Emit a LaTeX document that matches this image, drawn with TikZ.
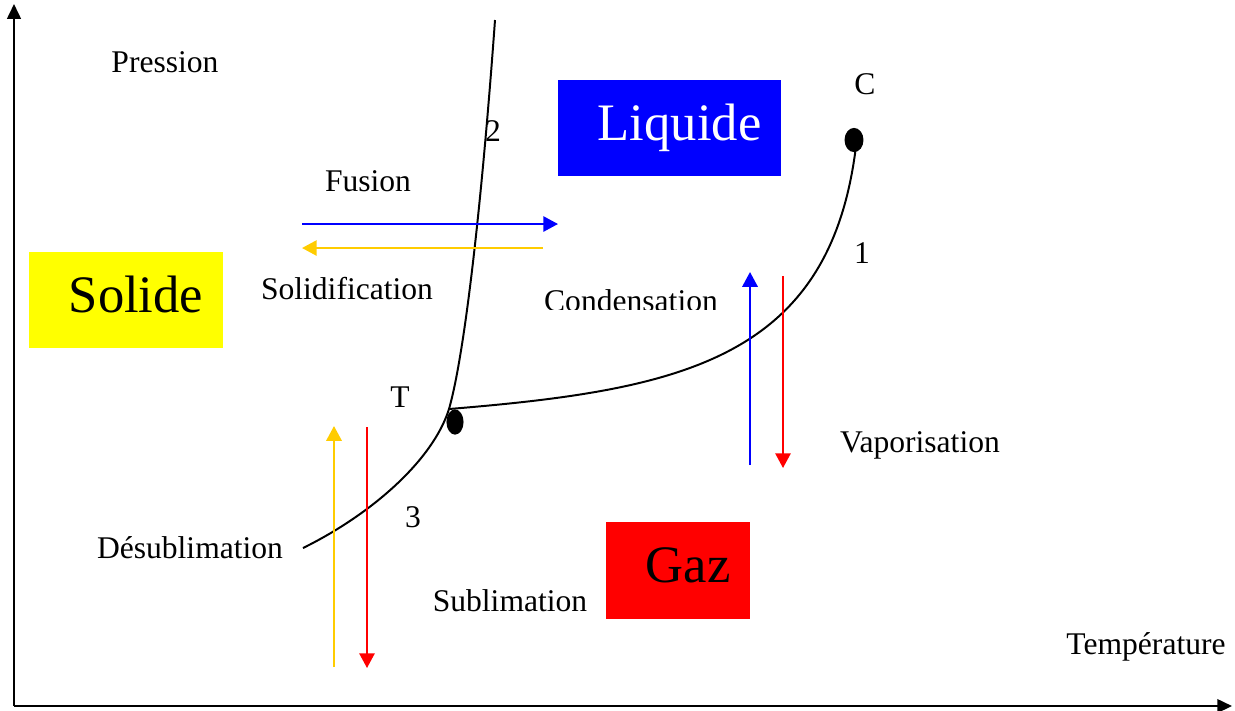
\documentclass[tikz,border=0pt]{standalone}
\usepackage{fontspec}
\setmainfont{Liberation Serif}
\usetikzlibrary{arrows.meta}
\definecolor{solidY}{RGB}{255,255,0}
\definecolor{liqB}{RGB}{0,0,255}
\definecolor{gazR}{RGB}{255,0,0}
\definecolor{gold}{RGB}{255,204,0}
\tikzset{
  lbl/.style={font=\fontsize{12}{14}\selectfont,inner sep=0pt},
  phase/.style={minimum height=36.5pt,inner xsep=7.6pt,inner ysep=0pt,
    text height=13.6pt,text depth=4.4pt,
    font=\fontsize{20}{24}\selectfont,execute at begin node={\hspace*{7.6pt}}},
  arr/.style={-{Triangle[length=5.6pt,width=5.8pt]},line width=0.8pt},
  axis/.style={-{Triangle[length=5.6pt,width=5.2pt]},line width=0.7pt},
  curve/.style={line width=0.75pt},
  dot/.style={ellipse,fill=black,minimum width=6.5pt,minimum height=9.6pt,inner sep=0pt},
}
\usetikzlibrary{shapes.geometric}
\begin{document}
\begin{tikzpicture}[x=0.38pt,y=-0.38pt]
\useasboundingbox (0,0) rectangle (1235,710);
% axes
\coordinate (o) at (14,706);
\coordinate (ytop) at (14,4);
\coordinate (xend) at (1232,706);
\draw[axis] (o) -- (ytop);
\draw[axis] (o) -- (xend);
\node[lbl] (pression) at (165,62) {Pression};
\node[lbl] (temp) at (1146,647) {Température};
% phases
\node[phase,fill=solidY] (solide) at (126,300) {Solide};
\node[phase,fill=liqB,text=white] (liquide) at (669.5,128) {Liquide};
\node[phase,fill=gazR] (gaz) at (678,570.5) {Gaz};
% triple and critical points
\coordinate (tp) at (449,409);
\coordinate (cp) at (856,146);
\coordinate (top) at (495,20);
\coordinate (sub) at (303,548);
\node[dot] (tdot) at (455,422) {};
\node[dot,minimum width=7.2pt,minimum height=9.2pt] (cdot) at (854,140) {};
\draw[curve] (sub) .. controls (372,514) and (433,460) .. (tp)
  .. controls (465,353) and (482,200) .. (top);
\draw[curve] (tp) .. controls (680,390) and (830,360) .. (cp);
\node[lbl] (tlbl) at (400,397) {T};
\node[lbl] (clbl) at (865,84) {C};
\node[lbl] (n1) at (862,253) {1};
\node[lbl] (n2) at (493,131) {2};
\node[lbl] (n3) at (413,517) {3};
% fusion / solidification
\coordinate (fus-a) at (302,224);
\coordinate (fus-b) at (558,224);
\coordinate (sol-a) at (543,248);
\coordinate (sol-b) at (302,248);
\draw[arr,liqB] (fus-a) -- (fus-b);
\draw[arr,gold] (sol-a) -- (sol-b);
\node[lbl] (fusion) at (368,181) {Fusion};
\node[lbl] (solidif) at (347,289) {Solidification};
% condensation / vaporisation
\coordinate (con-a) at (750,465);
\coordinate (con-b) at (750,272);
\coordinate (vap-a) at (783,276);
\coordinate (vap-b) at (783,468);
\draw[arr,liqB] (con-a) -- (con-b);
\draw[arr,gazR] (vap-a) -- (vap-b);
\begin{scope}
  \clip (530,270) rectangle (740,309);
  \node[lbl] (conden) at (631,301) {Condensation};
\end{scope}
\node[lbl] (vapor) at (920,445) {Vaporisation};
% desublimation / sublimation
\coordinate (des-a) at (334,667);
\coordinate (des-b) at (334,426);
\coordinate (subl-a) at (367,427);
\coordinate (subl-b) at (367,668);
\draw[arr,gold] (des-a) -- (des-b);
\draw[arr,gazR] (subl-a) -- (subl-b);
\node[lbl] (desub) at (190,548) {Désublimation};
\node[lbl] (sublim) at (510,601) {Sublimation};
\end{tikzpicture}
\end{document}
